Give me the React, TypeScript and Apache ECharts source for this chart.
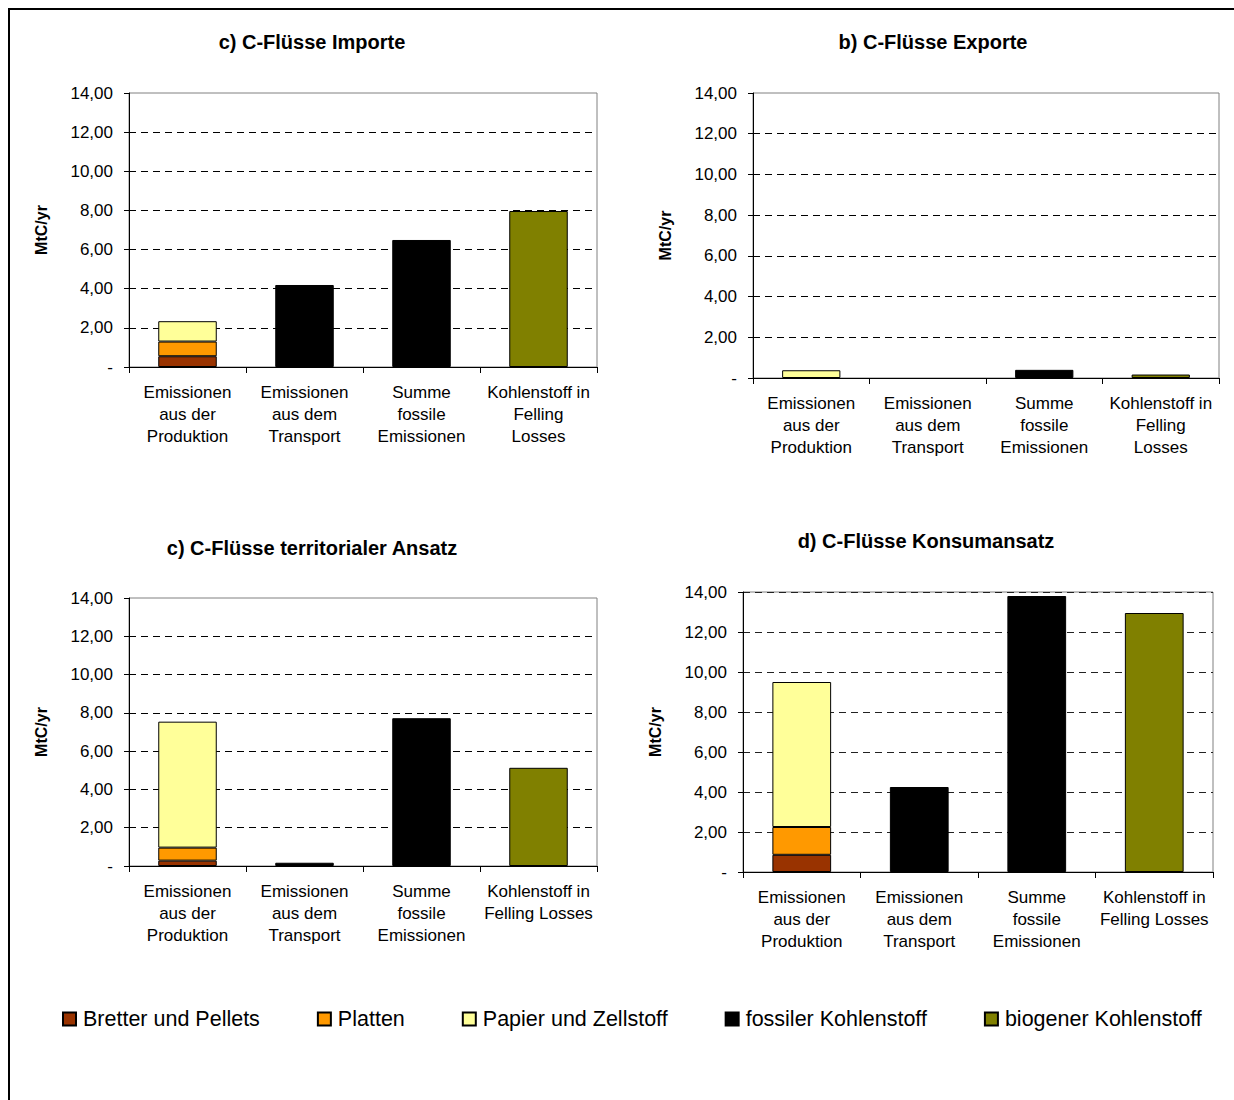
import React, { useEffect, useRef } from "react";
import * as echarts from "echarts";

const FONT = "'Liberation Sans', Arial, sans-serif";

const categoriesA = [
  "Emissionen\naus der\nProduktion",
  "Emissionen\naus dem\nTransport",
  "Summe\nfossile\nEmissionen",
  "Kohlenstoff in\nFelling\nLosses",
];
const categoriesB = [
  "Emissionen\naus der\nProduktion",
  "Emissionen\naus dem\nTransport",
  "Summe\nfossile\nEmissionen",
  "Kohlenstoff in\nFelling Losses",
];

const seriesNames = [
  "Bretter und Pellets",
  "Platten",
  "Papier und Zellstoff",
  "fossiler Kohlenstoff",
  "biogener Kohlenstoff",
];
const seriesColors = ["#993300", "#FF9900", "#FFFF99", "#000000", "#808000"];

const panelTitles = [
  "c) C-Flüsse Importe",
  "b) C-Flüsse Exporte",
  "c) C-Flüsse territorialer Ansatz",
  "d) C-Flüsse Konsumansatz",
];

// values per panel: [Bretter, Platten, Papier, fossil, biogen]
const importeBretter = [0.55, null, null, null];
const importePlatten = [0.75, null, null, null];
const importePapier = [1.04, null, null, null];
const importeFossil = [null, 4.19, 6.49, null];
const importeBiogen = [null, null, null, 7.97];

const exporteBretter = [null, null, null, null];
const exportePlatten = [null, null, null, null];
const exportePapier = [0.38, null, null, null];
const exporteFossil = [null, null, 0.4, null];
const exporteBiogen = [null, null, null, 0.17];

const terrBretter = [0.28, null, null, null];
const terrPlatten = [0.68, null, null, null];
const terrPapier = [6.58, null, null, null];
const terrFossil = [null, 0.17, 7.72, null];
const terrBiogen = [null, null, null, 5.13];

const konsumBretter = [0.86, null, null, null];
const konsumPlatten = [1.39, null, null, null];
const konsumPapier = [7.25, null, null, null];
const konsumFossil = [null, 4.25, 13.8, null];
const konsumBiogen = [null, null, null, 12.95];

const yMin = 0;
const yMax = 14;
const yInterval = 2;
const yAxisName = "MtC/yr";

const panelData = [
  [importeBretter, importePlatten, importePapier, importeFossil, importeBiogen],
  [exporteBretter, exportePlatten, exportePapier, exporteFossil, exporteBiogen],
  [terrBretter, terrPlatten, terrPapier, terrFossil, terrBiogen],
  [konsumBretter, konsumPlatten, konsumPapier, konsumFossil, konsumBiogen],
];
const panelCategories = [categoriesA, categoriesA, categoriesB, categoriesB];

// layout
const grids = [
  { left: 129, top: 93, width: 468, height: 274 },
  { left: 753, top: 93, width: 466, height: 285 },
  { left: 129, top: 598, width: 468, height: 268 },
  { left: 743, top: 592, width: 470, height: 280 },
];
const titlePos = [
  { x: 312, y: 32 },
  { x: 933, y: 32 },
  { x: 312, y: 538 },
  { x: 926, y: 531 },
];

export default function App() {
  const ref = useRef<HTMLDivElement>(null);

  useEffect(() => {
    if (!ref.current) return;
    const chart = echarts.init(ref.current, null, { renderer: "svg" });

    const fmt = (v: number) => (v === 0 ? "-" : v.toFixed(2).replace(".", ","));

    const option: any = {
      animation: false,
      backgroundColor: "#ffffff",
      textStyle: { fontFamily: FONT },
      title: panelTitles.map((t, i) => ({
        text: t,
        left: titlePos[i].x,
        top: titlePos[i].y,
        textAlign: "center",
        padding: 0,
        textStyle: { fontFamily: FONT, fontSize: 20, fontWeight: "bold", color: "#000" },
      })),
      grid: grids.map((g) => ({
        ...g,
        show: true,
        borderColor: "#808080",
        borderWidth: 1,
        backgroundColor: "transparent",
        containLabel: false,
      })),
      xAxis: grids.map((_, i) => ({
        type: "category",
        gridIndex: i,
        data: panelCategories[i],
        axisLine: { show: true, lineStyle: { color: "#000", width: 1 } },
        axisTick: { show: true, length: 6, interval: 0, lineStyle: { color: "#000" } },
        axisLabel: {
          interval: 0,
          margin: 14,
          fontSize: 17,
          lineHeight: 22,
          color: "#000",
          fontFamily: FONT,
        },
        splitLine: { show: false },
      })),
      yAxis: grids.map((_, i) => ({
        type: "value",
        gridIndex: i,
        min: yMin,
        max: yMax,
        interval: yInterval,
        name: yAxisName,
        nameLocation: "middle",
        nameGap: 80,
        nameRotate: 90,
        nameTextStyle: { fontFamily: FONT, fontSize: 16, fontWeight: "bold", color: "#000" },
        axisLine: { show: true, lineStyle: { color: "#000", width: 1 } },
        axisTick: { show: true, length: 5, lineStyle: { color: "#000" } },
        axisLabel: {
          formatter: fmt,
          margin: 16,
          fontSize: 17,
          color: "#000",
          fontFamily: FONT,
        },
        splitLine: {
          show: true,
          showMaxLine: i === 3,
          lineStyle: { color: i === 3 ? "#222" : "#000", type: [7, 5], width: 1 },
        },
      })),
      legend: {
        left: 62,
        top: 1008,
        padding: 0,
        itemWidth: 13,
        itemHeight: 13,
        itemGap: 57,
        icon: "rect",
        data: seriesNames,
        textStyle: { fontFamily: FONT, fontSize: 21.5, color: "#000", padding: [0, 0, 0, 2] },
      },
      graphic: [
        {
          type: "rect",
          shape: { x: 9, y: 9, width: 1300, height: 1200 },
          style: { fill: "none", stroke: "#000", lineWidth: 2 },
          silent: true,
          z: 100,
        },
      ],
      series: [] as any[],
    };

    panelData.forEach((pd, pi) => {
      pd.forEach((vals, si) => {
        option.series.push({
          type: "bar",
          name: seriesNames[si],
          xAxisIndex: pi,
          yAxisIndex: pi,
          stack: "p" + pi,
          barWidth: "50%",
          data: vals,
          itemStyle: {
            color: seriesColors[si],
            borderColor: "#000",
            borderWidth: 1,
          },
        });
      });
    });

    chart.setOption(option);
    return () => chart.dispose();
  }, []);

  return (
    <div
      ref={ref}
      style={{ position: "fixed", left: 0, top: 0, width: 1234, height: 1100 }}
    />
  );
}
